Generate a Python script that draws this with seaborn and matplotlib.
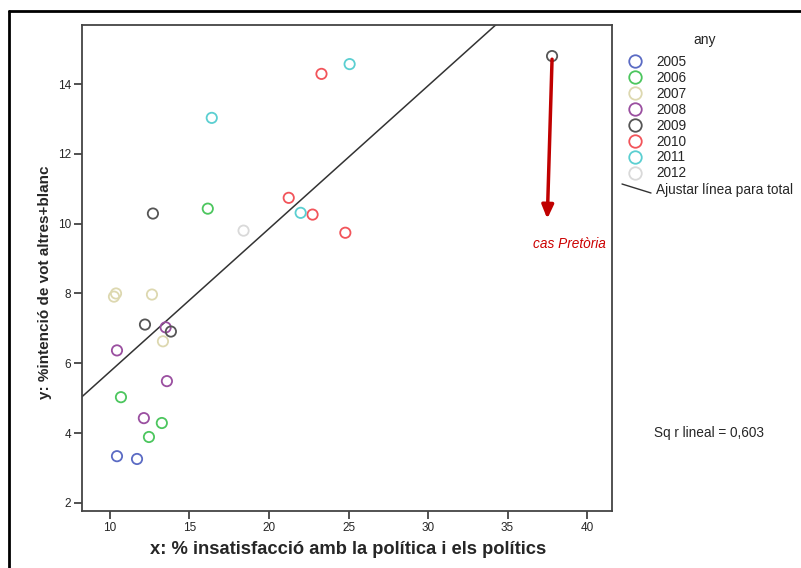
import numpy as np
import pandas as pd
import matplotlib
matplotlib.use("Agg")
import matplotlib.pyplot as plt
from matplotlib.lines import Line2D
import seaborn as sns

# dades llegides del gràfic
any_ = [2005, 2005,
        2006, 2006, 2006, 2006,
        2007, 2007, 2007, 2007,
        2008, 2008, 2008, 2008,
        2009, 2009, 2009, 2009,
        2010, 2010, 2010, 2010,
        2011, 2011, 2011,
        2012]
insatisfaccio = [10.44, 11.70,
                 10.69, 12.45, 13.26, 16.15,
                 10.38, 10.25, 12.64, 13.33,
                 10.44, 12.13, 13.50, 13.58,
                 12.20, 13.83, 12.70, 37.80,
                 23.30, 21.24, 22.74, 24.80,
                 25.07, 16.40, 21.99,
                 18.40]
vot_altres = [3.34, 3.26,
              5.03, 3.89, 4.29, 10.43,
              8.00, 7.91, 7.97, 6.63,
              6.37, 4.43, 7.03, 5.49,
              7.11, 6.91, 10.29, 14.80,
              14.29, 10.74, 10.26, 9.74,
              14.57, 13.03, 10.31,
              9.80]
anys = [2005, 2006, 2007, 2008, 2009, 2010, 2011, 2012]
colors = ['#5b6bc4', '#4cc65e', '#ddd8b0', '#9a4fa0',
          '#555555', '#f2545a', '#5bcfd1', '#d9d9d9']
r2_text = "Sq r lineal = 0,603"

df = pd.DataFrame({"any": any_, "x": insatisfaccio, "y": vot_altres})
paleta = dict(zip(anys, colors))

sns.set_style("white")
plt.rcParams['font.family'] = ['Liberation Sans', 'DejaVu Sans']

W, H = 801, 568
fig = plt.figure(figsize=(W / 100, H / 100), dpi=100)
ax = fig.add_axes([82 / W, 1 - 511 / H, (612 - 82) / W, (511 - 25) / H])
ax.set_xlim(8.24, 41.57)
ax.set_ylim(1.77, 15.69)

sns.scatterplot(data=df, x="x", y="y", hue="any", palette=paleta, s=55,
                marker="o", linewidth=1.3, legend=False, ax=ax, zorder=3)
coll = ax.collections[0]
coll.set_edgecolors(coll.get_facecolors())
coll.set_facecolors("none")

sns.regplot(data=df, x="x", y="y", scatter=False, ci=None, truncate=False,
            line_kws={"color": "#333333", "lw": 1.1}, ax=ax)
ax.set_xlim(8.24, 41.57)
ax.set_ylim(1.77, 15.69)

ax.set_xticks([10, 15, 20, 25, 30, 35, 40])
ax.set_yticks([2, 4, 6, 8, 10, 12, 14])
ax.tick_params(direction="out", length=6, width=1.2, color="#333333",
               labelsize=8.5, pad=2, bottom=True, left=True)
for s in ax.spines.values():
    s.set_color("#444444")
    s.set_linewidth(1.3)
ax.set_xlabel("")
ax.set_ylabel("")

fig.text(348 / W, 1 - 549 / H, "x: % insatisfacció amb la política i els polítics",
         ha="center", va="center", fontsize=13.2, fontweight="bold")
fig.text(45 / W, 1 - 282 / H, "y: %intenció de vot altres+blanc", rotation=90,
         ha="center", va="center", fontsize=11, fontweight="bold")

# fletxa del cas Pretòria
ax.annotate("", xy=(37.5, 10.14), xytext=(37.8, 14.71),
            arrowprops=dict(arrowstyle="-|>,head_width=0.35,head_length=0.8",
                            color="#c00000", lw=2.5, shrinkA=0, shrinkB=0))
ax.text(38.9, 9.43, "cas Pretòria", color="#cc0000", style="italic",
        fontsize=9.8, ha="center", va="center", clip_on=False)

# llegenda
handles = [Line2D([], [], ls="none", marker="o", markersize=9, mfc="none",
                  mec=c, mew=1.3) for c in colors]
leg = fig.legend(handles, [str(a) for a in anys],
                 loc="upper left", bbox_to_anchor=(624 / W, 1 - 55 / H),
                 frameon=False, fontsize=9.8,
                 labelspacing=0.14, handletextpad=0.75, handlelength=1.6,
                 borderaxespad=0, borderpad=0)
fig.text(705 / W, 1 - 40 / H, "any", fontsize=10, ha="center", va="center")
fig.add_artist(Line2D([622 / W, 651 / W], [1 - 184 / H, 1 - 193 / H],
                      color="#333333", lw=1.0))
fig.text(656 / W, 1 - 190 / H, "Ajustar línea para total", fontsize=9.8,
         ha="left", va="center")
fig.text(654 / W, 1 - 433 / H, r2_text, fontsize=9.8, ha="left", va="center")

# marc exterior
fig.add_artist(Line2D([9 / W, 9 / W], [0, 1 - 11 / H], color="black", lw=2))
fig.add_artist(Line2D([9 / W, 1], [1 - 11 / H, 1 - 11 / H], color="black", lw=2))

fig.savefig("out.png", dpi=100)
